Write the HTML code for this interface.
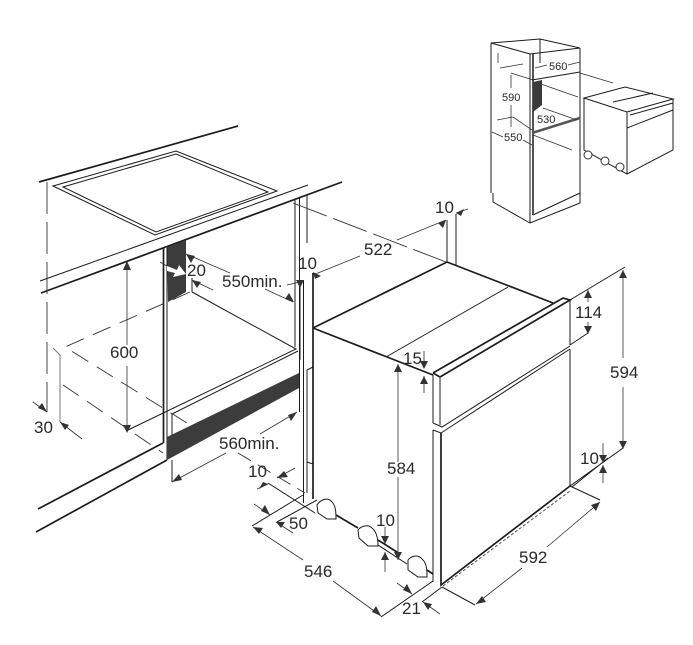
<!DOCTYPE html>
<html><head><meta charset="utf-8"><style>
html,body{margin:0;padding:0;background:#fff}
svg{display:block}
text{font-family:"Liberation Sans",sans-serif;fill:#2a2a2a}
.k{stroke:#1c1c1c;fill:none;stroke-width:1}
.t{stroke:#1c1c1c;fill:none;stroke-width:1.7}
.d{stroke:#333;fill:none;stroke-width:.9;stroke-dasharray:19 10}
.g{stroke:#333;fill:none;stroke-width:.8}
.a{fill:#333;stroke:none}
</style></head><body>
<svg width="693" height="645" viewBox="0 0 693 645" xmlns="http://www.w3.org/2000/svg">
<!-- worktop -->
<path class="t" d="M39 182L238 126M41 293L342 182"/>
<path class="k" d="M40 281L308 185"/>
<path class="d" d="M47 182V412" style="stroke-dasharray:32 8"/>
<path class="k" d="M53 186L176 151L277 191L155 235ZM63 187L176 154L268 192L156 232Z"/>
<path d="M167 247L186 240V292L168 302Z" fill="#3c3c3c"/>
<path class="k" d="M167 248V460"/>
<path class="t" d="M163.500 248V443"/>
<path class="k" d="M295 200V347M299.500 198V412M307 195V243M303.500 280V503M300 280V360"/>
<!-- cabinet interior -->
<path class="k" d="M192 292L296 349L128 430M298 351L172 414M172 413V438M192 278V292"/>
<path class="d" d="M190 292L65 347L187 423"/>
<path class="d" d="M63 385L163 453"/>
<path d="M53 348L60 355V422" stroke="#777" fill="none" stroke-width="1"/>
<path d="M167 437L299 373V388L167 460Z" fill="#3c3c3c"/>
<path class="t" d="M38 509L163 443M36 532L167 460"/>
<path class="k" d="M172 460V482"/>
<!-- post right lower -->
<path class="k" d="M307 370V493M307 370L313 367M307 462L313 464"/>
<path class="t" d="M313 273V499"/>
<path class="k" d="M252 526L303 495M277 522L317 500"/>
<path class="d" d="M293 203L446 262" style="stroke-dasharray:36 7"/>
<path class="d" d="M238 453L305 493" style="stroke-dasharray:15 8"/>
<!-- oven top -->
<path class="t" d="M313 328L447 262L553 303M313 328L433 375"/>
<path class="k" d="M386 357L508 287"/>
<path class="t" d="M433 373L563 298L570 300L440 377L433 373"/>
<path class="k" d="M433 375V423M440 378V425M570 300V345"/>
<path class="k" d="M447 220V262M456 214V265"/>
<!-- oven front -->
<path class="k" d="M433 423L442 427L570 346M433 430L441 433L570 349"/>
<path class="k" d="M433 430V582"/>
<path class="t" d="M441 433V585L570 486"/>
<path class="k" d="M570 349V486L623 448M572 487L608 458"/>
<path d="M443 586L570 491" stroke="#444" stroke-width=".9" stroke-dasharray="3 2" fill="none"/>
<path class="k" d="M570 486L600 500M442 587L475 605"/>
<path class="k" d="M570 300L625 267"/>
<path class="k" d="M570 345L588 333"/>
<!-- feet rail -->
<path class="k" d="M268 483L315 513"/>
<path class="t" d="M336 515L358 528M378 540L400 554M427 570L433 574"/>
<path class="k" d="M378 545L407 564"/>
<path d="M317 505C320 500 327 497 331 501C336 505 336 513 336 519L327 519L318 513Z" fill="#fff" stroke="#1c1c1c"/>
<path d="M358 530C361 526 368 524 372 528C377 532 378 540 378 546L368 546L359 538Z" fill="#fff" stroke="#1c1c1c"/>
<path d="M408 560C411 556 418 554 422 559C427 563 427 571 427 577L418 577L408 570Z" fill="#fff" stroke="#1c1c1c"/>
<!-- floor -->
<path class="k" d="M433 581L381 617M442 587L422 602"/>
<!-- dimension lines -->
<path class="g" d="M127 263V345M127 366V430M33 402L47 412M82 439L60 422"/>
<path class="g" d="M186 254L230 273M192 280L213 290M160 262L167 266M265 289L293 302M287 285L300 282"/>
<path class="g" d="M172 482L226 453M260 434L297 412"/>
<path class="g" d="M295 468L277 478M257 489L268 484M254 504L270 515M276 522L293 533M253 527L303 560M333 581L381 616"/>
<path class="g" d="M313 275L360 256M397 240L446 220M456 213L468 209"/>
<path class="g" d="M398 364V462M398 477V560M424 351V368M424 393V376"/>
<path class="g" d="M588 290V302M588 322V333M623 270V358M623 387V448"/>
<path class="g" d="M603 443V463M603 483V465"/>
<path class="g" d="M385 527V544M385 572V552"/>
<path class="g" d="M397 583L412 594M423 602L440 614"/>
<path class="g" d="M476 604L522 568M547 547L600 502"/>
<!-- arrowheads -->
<path class="a" d="M127 261L131 270H123ZM127 433L123 425H131ZM47 412L38 408L42 403ZM60 422L69 425L65 430Z"/>
<path class="a" d="M186 254L195 256L191 263ZM192 280L201 282L197 288ZM294 302L285 299L289 293ZM300 288L296 280H304Z"/>
<path class="a" d="M172 482L179 474L182 480ZM297 412L291 421L288 415Z"/>
<path class="a" d="M277 478L284 471L288 477ZM268 484L259 489L263 482ZM270 515L261 511L265 505ZM253 527L263 528L259 534ZM276 522L285 522L281 528ZM381 616L372 612L376 606Z"/>
<path class="a" d="M313 272L321 276L315 279ZM446 220L443 228L438 223ZM456 213L464 209L461 216Z"/>
<path class="a" d="M398 364L402 372H394ZM424 369L420 361H428ZM424 376L428 384H420ZM398 560L394 552H402Z"/>
<path class="a" d="M588 290L592 298H584ZM588 334L584 326H592ZM623 270L627 278H619ZM623 449L619 441H627ZM603 463L599 455H607ZM603 465L607 473H599Z"/>
<path class="a" d="M385 544L381 536H389ZM385 552L389 560H381Z"/>
<path class="a" d="M412 594L403 590L407 584ZM423 602L432 604L428 610ZM476 604L482 596L486 602ZM600 502L596 511L591 505Z"/>
<path d="M167 266L177 270L179 265L186 274L173 277L175 273L167 271Z" fill="#fff"/>
<!-- labels -->
<g font-size="17">
<text x="110" y="358">600</text>
<text x="34" y="433">30</text>
<text x="187" y="276">20</text>
<text x="222" y="287">550min.</text>
<text x="298" y="269">10</text>
<text x="219" y="449">560min.</text>
<text x="248" y="477">10</text>
<text x="289" y="529">50</text>
<text x="304" y="577">546</text>
<text x="364" y="255">522</text>
<text x="435" y="213">10</text>
<text x="403" y="364">15</text>
<text x="575" y="318">114</text>
<text x="610" y="378">594</text>
<text x="387" y="474">584</text>
<text x="580" y="464">10</text>
<text x="376" y="526">10</text>
<text x="519" y="563">592</text>
<text x="402" y="614">21</text>
</g>
<!-- small thumbnail -->
<g>
<path class="k" d="M491 43L530 54L580 48L540 39ZM491 43V193M493 193V202L530 223L580 203V48M530 54V223M533 215L580 193M540 39V63"/>
<path d="M533 54V215" stroke="#555" stroke-width="2" fill="none"/>
<path class="k" d="M532 80L580 72"/>
<path d="M532 133L580 118" stroke="#555" stroke-width="2.500" fill="none"/>
<path d="M533 82L542 80V105L533 112Z" fill="#3c3c3c"/>
<path class="g" d="M498 53V63M500 68L523 64M497 120L513 117L532 130M511 75V88M511 105V127M511 73L533 80M538 83L578 97M543 108L577 120M533 135L572 150M580 73L613 83M492 132L503 137M523 140L532 145M535 68L547 65M568 65L580 62"/>
<path class="k" d="M584 98L625 87L673 99L627 112ZM584 98V150L627 174L673 150V99M627 112V174M627 128L673 110M630 115L673 103M613 102L653 93"/>
</g>
<circle cx="588" cy="155" r="4" fill="#fff" stroke="#333"/>
<circle cx="605" cy="161" r="4" fill="#fff" stroke="#333"/>
<circle cx="620" cy="167" r="4" fill="#fff" stroke="#333"/>
<g font-size="11">
<text x="549" y="70">560</text>
<text x="502" y="101">590</text>
<text x="537" y="123">530</text>
<text x="504" y="141">550</text>
</g>
</svg>
</body></html>
